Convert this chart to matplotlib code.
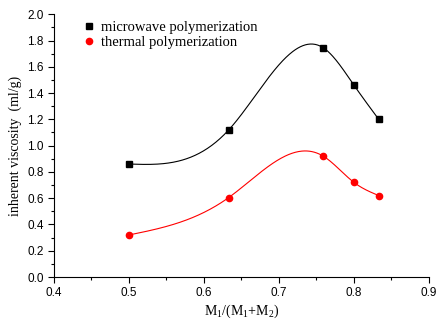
import numpy as np
import matplotlib
matplotlib.use("Agg")
import matplotlib.pyplot as plt
from matplotlib.ticker import MultipleLocator

x_vals = [0.5, 0.633, 0.759, 0.8, 0.833]
microwave = [0.86, 1.12, 1.745, 1.46, 1.20]
thermal = [0.32, 0.605, 0.92, 0.72, 0.62]
xticks = [0.4, 0.5, 0.6, 0.7, 0.8, 0.9]
yticks = [0.0, 0.2, 0.4, 0.6, 0.8, 1.0, 1.2, 1.4, 1.6, 1.8, 2.0]

plt.rcParams["mathtext.fontset"] = "custom"
plt.rcParams["mathtext.rm"] = "Liberation Serif"
plt.rcParams["mathtext.it"] = "Liberation Serif:italic"


def natural_spline(x, y, xs):
    x = np.asarray(x, float); y = np.asarray(y, float)
    n = len(x)
    h = np.diff(x)
    A = np.zeros((n, n)); b = np.zeros(n)
    A[0, 0] = 1; A[-1, -1] = 1
    for i in range(1, n - 1):
        A[i, i - 1] = h[i - 1]
        A[i, i] = 2 * (h[i - 1] + h[i])
        A[i, i + 1] = h[i]
        b[i] = 6 * ((y[i + 1] - y[i]) / h[i] - (y[i] - y[i - 1]) / h[i - 1])
    M = np.linalg.solve(A, b)
    out = np.empty_like(xs)
    for k, xv in enumerate(xs):
        i = min(max(np.searchsorted(x, xv) - 1, 0), n - 2)
        t1 = x[i + 1] - xv; t0 = xv - x[i]
        out[k] = (M[i] * t1**3 + M[i + 1] * t0**3) / (6 * h[i]) \
            + (y[i] / h[i] - M[i] * h[i] / 6) * t1 \
            + (y[i + 1] / h[i] - M[i + 1] * h[i] / 6) * t0
    return out


fig = plt.figure(figsize=(4.44, 3.24), dpi=100)
ax = fig.add_axes([0.1216, 0.145, 0.8446, 0.811])

xs = np.linspace(min(x_vals), max(x_vals), 300)
ax.plot(xs, natural_spline(x_vals, microwave, xs), color="black", lw=0.8)
ax.plot(xs, natural_spline(x_vals, thermal, xs), color="red", lw=0.8)
ax.plot(x_vals, microwave, "s", color="black", ms=4, label="microwave polymerization")
ax.plot(x_vals, thermal, "o", color="red", ms=4.5, label="thermal polymerization")

ax.set_xlim(0.4, 0.9)
ax.set_ylim(0.0, 2.0)
ax.set_xticks(xticks)
ax.set_yticks(yticks)
ax.set_xticklabels([f"{v:.1f}" for v in xticks])
ax.set_yticklabels([f"{v:.1f}" for v in yticks])
ax.xaxis.set_minor_locator(MultipleLocator(0.05))
ax.yaxis.set_minor_locator(MultipleLocator(0.1))
ax.tick_params(which="major", direction="out", length=4, width=0.8, labelsize=8.5)
ax.tick_params(which="minor", direction="out", length=2, width=0.8)
for lab in ax.get_xticklabels() + ax.get_yticklabels():
    lab.set_family("Liberation Sans")
ax.spines["top"].set_visible(False)
ax.spines["right"].set_visible(False)

ax.set_xlabel(r"M$_1$/(M$_1$+M$_2$)", family="Liberation Serif", fontsize=10, labelpad=2)
ax.set_ylabel("inherent viscosity  (ml/g)", family="Liberation Serif", fontsize=10, labelpad=4)

leg = ax.legend(loc="upper left", frameon=False, prop={"family": "Liberation Serif", "size": 10.5},
                handlelength=0.6, handletextpad=0.5, borderaxespad=0.3, labelspacing=0.15,
                bbox_to_anchor=(0.055, 1.015))

fig.savefig("out.png", dpi=100)
